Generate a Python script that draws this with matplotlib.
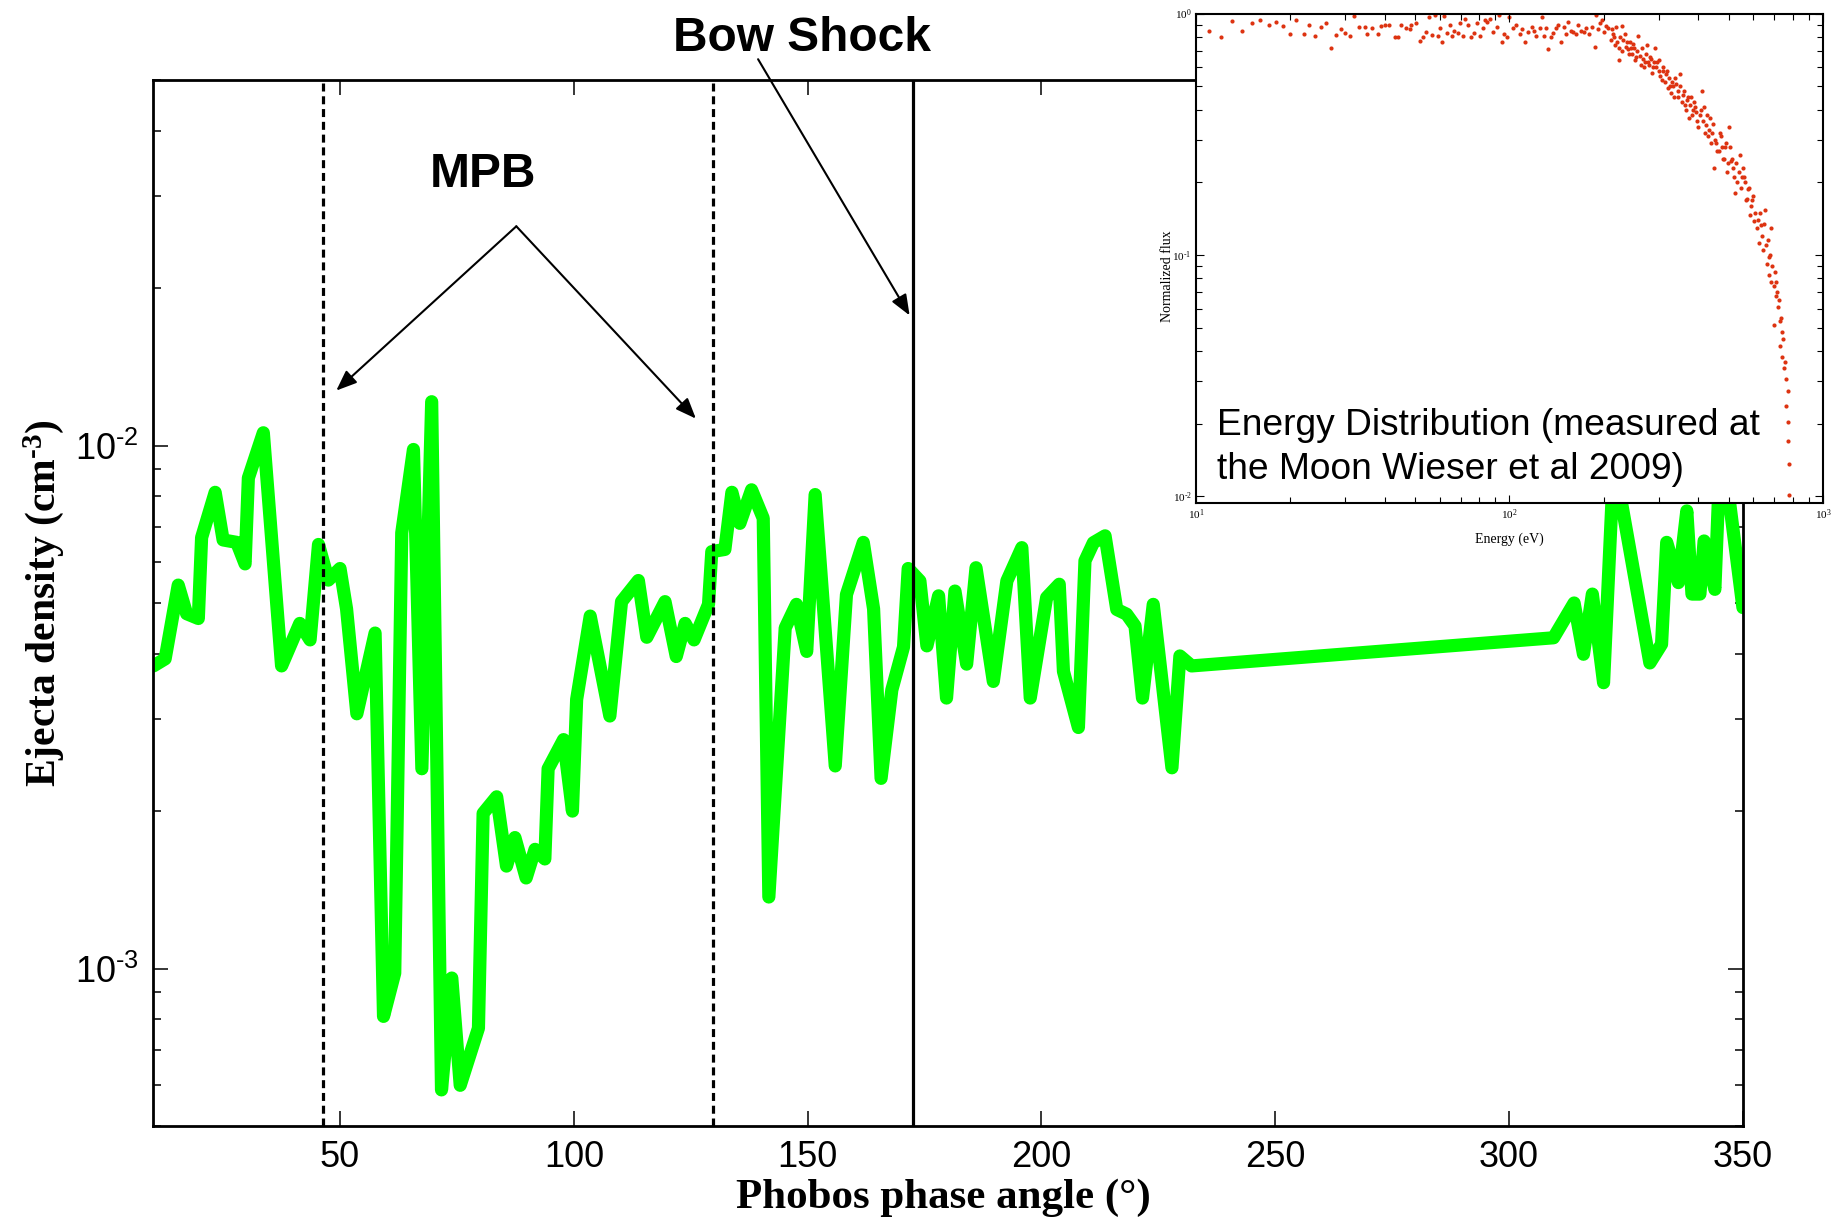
"""
Phobos ejecta density vs phase angle, with energy distribution inset
"""

import matplotlib

matplotlib.use("Agg")
import matplotlib.pyplot as plt
import numpy as np
from matplotlib.ticker import FuncFormatter, LogLocator, NullFormatter

# main curve: phase angle (deg) / ejecta density (cm^-3)
angle = [
    10.1, 12.6, 15.4, 17.2, 19.7, 20.4, 23.3, 25.0, 27.9, 29.7, 30.4, 33.6, 37.5, 41.4, 43.6,
    45.4, 47.5, 50.0, 51.4, 53.6, 57.5, 59.3, 61.7, 63.2, 65.7, 67.5, 69.6, 71.7, 73.9, 75.7,
    79.6, 80.6, 83.5, 85.6, 87.4, 89.8, 91.7, 93.8, 94.5, 97.8, 99.7, 100.6, 103.5, 107.7, 110.2,
    113.8, 115.6, 119.5, 121.9, 123.8, 125.7, 128.8, 129.5, 132.3, 133.8, 135.5, 138.0, 140.5, 141.7, 145.2,
    147.6, 149.8, 151.6, 155.9, 158.3, 161.9, 164.1, 165.7, 168.0, 170.5, 171.5, 174.0, 175.5, 178.0, 179.7,
    181.5, 184.0, 186.0, 189.7, 192.6, 195.8, 197.6, 201.1, 203.8, 204.7, 207.9, 209.3, 211.1, 213.6, 216.1,
    218.2, 220.0, 221.6, 223.9, 227.9, 229.6, 232.1, 309.5, 313.9, 315.9, 317.8, 320.2, 322.4, 330.1, 332.6,
    333.7, 336.2, 338.0, 339.1, 340.8, 341.7, 344.0, 345.3, 350.0,
]
density = [
    0.00379, 0.00391, 0.00541, 0.00477, 0.00467, 0.00667, 0.00814, 0.00660, 0.00653, 0.00594, 0.00867, 0.01058, 0.00379, 0.00457, 0.00425,
    0.00647, 0.00553, 0.00582, 0.00487, 0.00307, 0.00438, 0.00081, 0.00098, 0.00681, 0.00983, 0.00241, 0.01213, 0.000586, 0.000959, 0.000598,
    0.000769, 0.00198, 0.00213, 0.00157, 0.00178, 0.00149, 0.00169, 0.00162, 0.00241, 0.00274, 0.00200, 0.00327, 0.00472, 0.00304, 0.00503,
    0.00552, 0.00430, 0.00503, 0.00395, 0.00457, 0.00425, 0.00497, 0.00627, 0.00633, 0.00814, 0.00710, 0.00823, 0.00726, 0.00137, 0.00448,
    0.00497, 0.00404, 0.00806, 0.00244, 0.00519, 0.00653, 0.00487, 0.00231, 0.00341, 0.00412, 0.00582, 0.00551, 0.00414, 0.00516, 0.00329,
    0.00527, 0.00382, 0.00584, 0.00354, 0.00551, 0.00638, 0.00329, 0.00512, 0.00543, 0.00370, 0.00289, 0.00602, 0.00652, 0.00672, 0.00486,
    0.00476, 0.00452, 0.00329, 0.00497, 0.00242, 0.00396, 0.00379, 0.00429, 0.00500, 0.00399, 0.00520, 0.00352, 0.00940, 0.00384, 0.00417,
    0.00653, 0.00547, 0.00750, 0.00520, 0.00520, 0.00657, 0.00531, 0.01050, 0.00490,
]

# boundaries (deg)
mpb_angles = [46.4, 129.8]
bow_shock_angle = 172.6

# inset: energy distribution (eV) / normalized flux
energy = [
    11.0, 12.0, 13.0, 14.0, 15.1, 16.0, 17.1, 18.0, 19.0, 19.9, 20.9, 22.1, 23.0, 24.0, 25.1, 26.0, 27.0, 28.0,
    29.1, 30.0, 31.0, 31.9, 33.2, 34.5, 35.2, 36.5, 38.0, 38.9, 40.2, 41.3, 43.0, 44.0, 45.0, 46.8, 48.2, 48.7,
    50.5, 51.8, 52.9, 54.3, 55.4, 56.7, 57.7, 59.0, 59.9, 60.9, 61.8, 63.2, 64.4, 65.8, 66.8, 68.3, 69.5, 71.1,
    72.4, 73.8, 75.6, 77.3, 78.7, 80.5, 82.5, 83.5, 85.1, 87.0, 88.9, 91.1, 92.8, 94.6, 96.3, 98.5, 100, 103,
    105, 108, 110, 112, 115, 118, 120, 122, 125, 127, 129, 131, 133, 136, 138, 141, 143, 146, 149, 152,
    154, 157, 160, 163, 166, 169, 173, 176, 179, 183, 187, 189, 192, 195, 198, 201, 204, 207,
    211, 214, 217, 221, 224, 228, 231, 235, 239, 242, 246, 250, 254, 258, 262, 266, 270, 274,
    279, 283, 287, 292, 296, 301, 306, 310, 315, 320, 325, 330, 335, 341, 346, 351, 357, 362,
    368, 374, 380, 386, 392, 398, 404, 410, 417, 423, 430, 437, 444, 450, 457, 465, 472, 479,
    487, 494, 502, 510, 518, 526, 534, 543, 551, 560, 568, 577, 586, 596, 605, 614, 624, 634,
    644, 654, 664, 674, 685, 674, 685, 696, 707, 711, 718, 729, 696, 740, 729, 740, 752, 763,
    771, 763, 775, 775, 780, 780,
    213, 216, 219, 223, 226, 229, 233, 237, 241, 244, 248, 252, 256, 260, 264, 268, 272, 276,
    281, 285, 289, 294, 299, 303, 308, 313, 318, 322, 327, 333, 338, 344, 349, 354, 360, 365,
    371, 377, 383, 389, 395, 401, 407, 413, 420, 426, 433, 440, 447, 453, 461, 468, 476, 483,
    491, 498, 506, 514, 522, 530, 538, 547, 555, 564, 573, 582, 591, 600, 609, 619, 629, 639,
    649, 659, 669, 679, 690, 701, 715, 722, 735, 745, 757,
]
flux = [
    0.85, 0.80, 0.93, 0.85, 0.91, 0.94, 0.90, 0.92, 0.885, 0.82, 0.94, 0.82, 0.90, 0.81, 0.88, 0.915, 0.72, 0.815,
    0.86, 0.83, 0.81, 0.98, 0.88, 0.88, 0.82, 0.87, 0.82, 0.89, 0.90, 0.90, 0.80, 0.80, 0.90, 0.87, 0.86, 0.90,
    0.915, 0.77, 0.80, 0.84, 0.97, 0.815, 0.99, 0.81, 0.87, 0.76, 0.98, 0.83, 0.90, 0.81, 0.85, 0.83, 0.91, 0.81,
    0.95, 0.90, 0.80, 0.83, 0.91, 0.81, 0.87, 0.94, 0.92, 0.95, 0.84, 0.88, 0.99, 0.76, 0.82, 0.80, 0.97, 0.87,
    0.90, 0.82, 0.86, 0.76, 0.84, 0.88, 0.85, 0.81, 0.87, 0.97, 0.81, 0.87, 0.71, 0.80, 0.83, 0.87, 0.90, 0.76, 0.88, 0.82,
    0.92, 0.85, 0.84, 0.82, 0.90, 0.85, 0.84, 0.87, 0.82, 0.88, 0.73, 0.99, 0.86, 0.91, 0.94, 0.84, 0.89, 0.87,
    0.78, 0.82, 0.74, 0.76, 0.64, 0.89, 0.78, 0.73, 0.71, 0.76, 0.68, 0.72, 0.66, 0.81, 0.61, 0.65, 0.63, 0.74,
    0.61, 0.65, 0.60, 0.72, 0.63, 0.58, 0.53, 0.58, 0.56, 0.49, 0.50, 0.52, 0.45, 0.51, 0.48, 0.56, 0.46, 0.42,
    0.44, 0.37, 0.45, 0.40, 0.41, 0.36, 0.38, 0.48, 0.41, 0.345, 0.31, 0.37, 0.32, 0.23, 0.29, 0.27, 0.31, 0.25,
    0.28, 0.22, 0.34, 0.246, 0.23, 0.18, 0.20, 0.26, 0.21, 0.21, 0.169, 0.187, 0.147, 0.169, 0.138, 0.129, 0.112, 0.133,
    0.105, 0.153, 0.0915, 0.098, 0.129, 0.0826, 0.0772, 0.0746, 0.0674, 0.0772, 0.0608, 0.0531, 0.0513, 0.0479, 0.0418, 0.0378, 0.0341, 0.0308,
    0.0273, 0.0238, 0.0204, 0.0170, 0.0136, 0.0101,
    0.86, 0.80, 0.88, 0.72, 0.80, 0.70, 0.82, 0.76, 0.68, 0.72, 0.75, 0.64, 0.70, 0.67, 0.72, 0.60, 0.68, 0.63,
    0.66, 0.57, 0.63, 0.60, 0.64, 0.55, 0.60, 0.52, 0.58, 0.54, 0.47, 0.50, 0.54, 0.45, 0.50, 0.43, 0.48, 0.40,
    0.45, 0.42, 0.38, 0.43, 0.39, 0.34, 0.40, 0.36, 0.32, 0.38, 0.33, 0.29, 0.35, 0.30, 0.27, 0.32, 0.28, 0.25,
    0.29, 0.24, 0.28, 0.25, 0.21, 0.24, 0.22, 0.19, 0.23, 0.20, 0.17, 0.19, 0.16, 0.175, 0.15, 0.14, 0.15, 0.12,
    0.135, 0.11, 0.115, 0.10, 0.09, 0.085, 0.07, 0.065, 0.055, 0.045, 0.036,
]

HY = "\u2010"  # short hyphen for the exponents, as in the original

plt.rcParams["font.family"] = ["Liberation Sans", "DejaVu Sans"]
plt.rcParams["mathtext.default"] = "regular"
plt.rcParams["axes.unicode_minus"] = False

fig = plt.figure(figsize=(18.43, 12.22), dpi=100)
ax = fig.add_axes([0.0830, 0.0786, 0.8627, 0.8559])

ax.plot(angle, density, color="#00ff00", lw=9.5, solid_joinstyle="round", solid_capstyle="round", zorder=2)
for a in mpb_angles:
    ax.axvline(a, color="black", lw=2.3, ls=(0, (2.5, 1.5)), zorder=3)
ax.axvline(bow_shock_angle, color="black", lw=2.3, zorder=3)

ax.set_yscale("log")
ax.set_xlim(10, 350)
ax.set_ylim(5e-4, 5e-2)
ax.set_xticks([50, 100, 150, 200, 250, 300, 350])
ax.yaxis.set_major_formatter(
    FuncFormatter(lambda v, p: "$10^{%s%d}$" % (HY if v < 1 else "", abs(round(np.log10(v)))))
)
ax.yaxis.set_minor_formatter(NullFormatter())
ax.tick_params(which="both", direction="in", top=True, right=True)
ax.tick_params(which="major", length=11, width=1.1, labelsize=26, pad=10)
ax.tick_params(which="minor", length=6, width=1.1)
for s in ax.spines.values():
    s.set_linewidth(2)

ax.set_xlabel("Phobos phase angle (°)", family="Liberation Serif", weight="bold", size=31)
ax.xaxis.set_label_coords(0.497, -0.050)
ax.set_ylabel("Ejecta density (cm$^{" + HY + "3}$)", family="Liberation Serif", weight="bold", size=30)
ax.yaxis.set_label_coords(-0.055, 0.5)

# annotations
ax.text(148.8, 0.060, "Bow Shock", ha="center", va="center", size=34.5, weight="bold", clip_on=False)
ax.text(80.6, 0.033, "MPB", ha="center", va="center", size=34.5, weight="bold")
arrow = dict(arrowstyle="-|>,head_length=0.5,head_width=0.2", lw=1.5, color="black", mutation_scale=25,
             shrinkA=0, shrinkB=0)
ax.annotate("", xy=(171.8, 0.01774), xytext=(139.4, 0.0548), arrowprops=arrow, annotation_clip=False)
ax.annotate("", xy=(49.2, 0.01274), xytext=(87.7, 0.02626), arrowprops=arrow)
ax.annotate("", xy=(126.1, 0.01126), xytext=(87.7, 0.02626), arrowprops=arrow)

# inset
ins = fig.add_axes([0.6489, 0.5884, 0.3402, 0.4005])
ins.set_facecolor("white")
ins.scatter(energy, flux, s=9, color="#dd3311", linewidths=0)
ins.set_xscale("log")
ins.set_yscale("log")
ins.set_xlim(10, 1000)
ins.set_ylim(0.0094, 1.0)
ins.set_xticks([10, 100, 1000], labels=["$10^{1}$", "$10^{2}$", "$10^{3}$"], fontfamily="Liberation Serif", fontsize=8)
ins.set_yticks([0.01, 0.1, 1.0], labels=["$10^{" + HY + "2}$", "$10^{" + HY + "1}$", "$10^{0}$"],
               fontfamily="Liberation Serif", fontsize=8)
ins.xaxis.set_minor_locator(LogLocator(subs=range(2, 10)))
ins.yaxis.set_minor_locator(LogLocator(subs=range(2, 10)))
ins.xaxis.set_minor_formatter(NullFormatter())
ins.yaxis.set_minor_formatter(NullFormatter())
ins.tick_params(which="both", direction="in", top=True, right=True, width=0.8, pad=3)
ins.tick_params(which="major", length=6)
ins.tick_params(which="minor", length=4)
for s in ins.spines.values():
    s.set_linewidth(1.5)
ins.set_xlabel("Energy (eV)", family="Liberation Serif", size=10)
ins.xaxis.set_label_coords(0.5, -0.061)
ins.set_ylabel("Normalized flux", family="Liberation Serif", size=10)
ins.yaxis.set_label_coords(-0.035, 0.464)
ins.text(0.0335, 0.139, "Energy Distribution (measured at", transform=ins.transAxes, size=26.7, va="baseline")
ins.text(0.0335, 0.050, "the Moon Wieser et al 2009)", transform=ins.transAxes, size=26.7, va="baseline")

fig.savefig("out.png", dpi=100)
